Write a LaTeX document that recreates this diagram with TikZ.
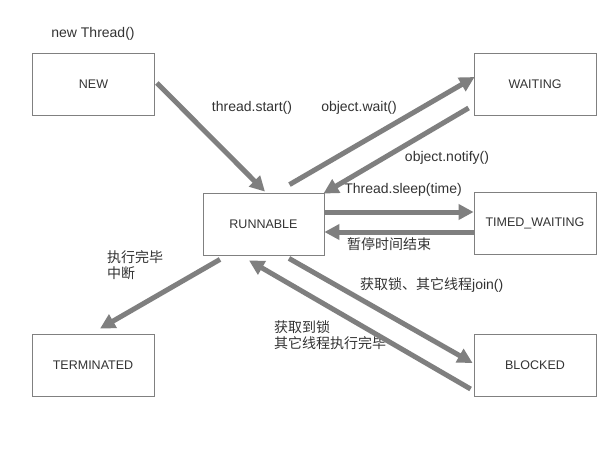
\documentclass[tikz,border=0pt]{standalone}
\usepackage{fontspec}
\setmainfont{Liberation Sans}
\newfontfamily\cjk{Noto Sans CJK SC}
\usetikzlibrary{arrows.meta}
\definecolor{boxline}{HTML}{808080}
\definecolor{arrowgray}{HTML}{7F7F7F}
\definecolor{txt}{HTML}{333333}
\begin{document}
\begin{tikzpicture}[x=1pt,y=-1pt,
  state/.style={draw=boxline,line width=0.8pt,minimum width=122pt,minimum height=62pt,inner sep=0pt,text=txt,font=\fontsize{12.5}{15}\selectfont},
  trans/.style={draw=arrowgray,line width=5pt,-{Triangle[length=15pt,width=15pt]}},
  lbl/.style={text=txt,font=\fontsize{14}{16}\selectfont,inner sep=0pt},
  cjklbl/.style={text=txt,font=\fontsize{14}{16.5}\selectfont\cjk,inner sep=0pt,align=left}]
\useasboundingbox (0,0) rectangle (597,464);
\fill[white] (0,0) rectangle (597,464);
\node[state] (new) at (93.5,84) {NEW};
\node[state,minimum width=121pt] (run) at (263.5,224) {RUNNABLE};
\node[state] (wait) at (535,84) {WAITING};
\node[state] (timed) at (535,223.5) {TIMED\_WAITING};
\node[state] (term) at (93,365) {TERMINATED};
\node[state] (block) at (535,365) {BLOCKED};
% labels
\node[lbl] (lnew) at (93,34) {new Thread()};
\node[lbl] (lstart) at (252,108) {thread.start()};
\node[lbl] (lwait) at (359,108) {object.wait()};
\node[lbl] (lnotify) at (447,158) {object.notify()};
\node[lbl] (lsleep) at (403,190) {Thread.sleep(time)};
\node[cjklbl] (lend) at (389,244) {暂停时间结束};
\node[cjklbl,anchor=west] (ldone) at (107,265) {执行完毕\\中断};
\node[lbl,anchor=west] (llock) at (360,285) {{\cjk 获取锁、其它线程}join()};
\node[cjklbl,anchor=west] (lgot) at (274,335) {获取到锁\\其它线程执行完毕};
% connectors
\coordinate (a1) at ([shift={(2,-1)}]new.east);
\draw[trans] (a1) -- ([shift={(1.5,-1)}]run.north);
\draw[trans] ([shift={(26,-8)}]run.north) -- ([shift={(1,-7)}]wait.west);
\draw[trans] ([shift={(-5,24)}]wait.west) -- ([shift={(-1,1)}]run.north east);
\draw[trans] ([shift={(0,-12)}]run.east) -- ([shift={(0,-11.5)}]timed.west);
\draw[trans] ([shift={(0,8.5)}]timed.west) -- ([shift={(0,8)}]run.east);
\draw[trans] ([shift={(-43.5,4)}]run.south) -- ([shift={(7,-5)}]term.north);
\draw[trans] ([shift={(25.5,3)}]run.south) -- ([shift={(-1,-2)}]block.west);
\draw[trans] ([shift={(-3,24)}]block.west) -- ([shift={(-14.5,5)}]run.south);
\end{tikzpicture}
\end{document}
